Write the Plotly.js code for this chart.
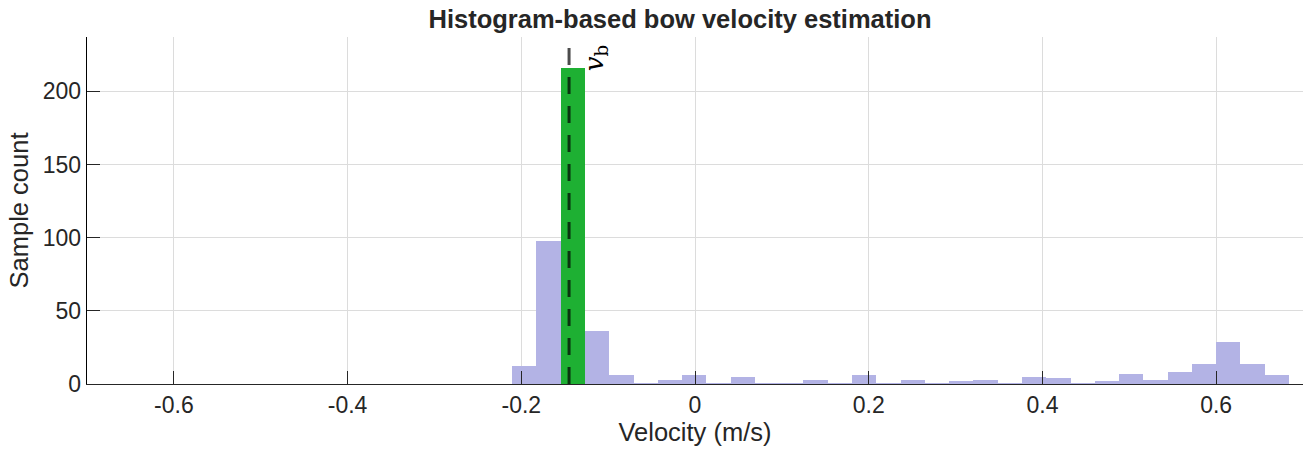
<!DOCTYPE html>
<html>
<head>
<meta charset="utf-8">
<script src="https://cdn.plot.ly/plotly-3.0.1.min.js"></script>
<style>
html,body{margin:0;padding:0;background:#fff;}
#chart{width:1309px;height:450px;}
</style>
</head>
<body>
<div id="chart"></div>
<script>
// Histogram data (bins of equal width)
const binStart = -0.2105;
const binWidth = 0.02795;
const counts = [12, 98, 216, 36, 6, 1, 3, 6, 1, 5, 1, 1, 3, 1, 6, 1, 3, 1, 2, 3, 1, 5, 4, 1, 2, 7, 3, 8, 14, 29, 14, 6];
const vb = -0.145; // estimated bow velocity
const xTicks = [-0.6, -0.4, -0.2, 0, 0.2, 0.4, 0.6];
const xTickLabels = ['-0.6', '-0.4', '-0.2', '0', '0.2', '0.4', '0.6'];
const yTicks = [0, 50, 100, 150, 200];

const peak = counts.indexOf(Math.max(...counts));
const colors = counts.map((c, i) => i === peak ? '#1eb033' : '#b3b3e5');

const font = 'Liberation Sans, Arial, Helvetica, sans-serif';
const axisColor = '#262626';
const xRange = [-0.7, 0.7];

const trace = {
  type: 'bar',
  x0: binStart + binWidth / 2,
  dx: binWidth,
  y: counts,
  width: binWidth,
  marker: {color: colors, line: {width: 0}},
  hoverinfo: 'x+y'
};
// empty helper trace so that the label axis (y2) exists
const labelTrace = {type: 'scatter', x: [], y: [], xaxis: 'x', yaxis: 'y2', hoverinfo: 'skip', showlegend: false};

// label axis placed just right of the v_b line (offset in pixels converted to paper units)
const plotWidthPx = 1309 - 87 - 6;
const labelPos = (vb - xRange[0]) / (xRange[1] - xRange[0]) + 15 / plotWidthPx;

const layout = {
  width: 1309,
  height: 450,
  margin: {l: 87, r: 6, t: 37, b: 66, pad: 0},
  paper_bgcolor: '#ffffff',
  plot_bgcolor: 'rgba(0,0,0,0)',
  showlegend: false,
  bargap: 0,
  font: {family: font, color: axisColor, size: 23},
  title: {
    text: '<b>Histogram-based bow velocity estimation</b>',
    font: {family: font, size: 25.5, color: '#262626'},
    xref: 'container', x: 680 / 1309, xanchor: 'center',
    yref: 'container', y: 1 - 19 / 450, yanchor: 'middle'
  },
  xaxis: {
    range: xRange,
    tickmode: 'array', tickvals: xTicks, ticktext: xTickLabels,
    ticks: 'inside', ticklen: 13, tickwidth: 1, tickcolor: axisColor,
    showline: true, linecolor: axisColor, linewidth: 1,
    showgrid: true, gridcolor: '#dcdcdc', gridwidth: 1,
    zeroline: false,
    tickfont: {family: font, size: 23, color: axisColor},
    title: {text: 'Velocity (m/s)', font: {family: font, size: 25.5, color: axisColor}, standoff: 6},
    automargin: false
  },
  yaxis: {
    range: [0, 237.2],
    tickmode: 'array', tickvals: yTicks,
    ticks: 'inside', ticklen: 13, tickwidth: 1, tickcolor: axisColor,
    showline: true, linecolor: '#000000', linewidth: 1.3,
    showgrid: true, gridcolor: '#dcdcdc', gridwidth: 1,
    zeroline: false,
    tickfont: {family: font, size: 23, color: axisColor},
    title: {text: 'Sample count', font: {family: font, size: 25.5, color: axisColor}, standoff: 6},
    automargin: false
  },
  yaxis2: {
    domain: [0.879, 1.0],
    anchor: 'free', position: labelPos, side: 'right',
    range: [0, 1], fixedrange: true,
    showticklabels: false, ticks: '', showline: false, showgrid: false, zeroline: false,
    title: {text: '<i>v</i><sub>b</sub>', font: {family: 'DejaVu Serif, Liberation Serif, serif', size: 26, color: '#000000'}, standoff: 0},
    automargin: false
  },
  shapes: [{
    type: 'line', xref: 'x', yref: 'paper',
    x0: vb, x1: vb, y0: 0, y1: 1,
    line: {color: 'rgba(0,0,0,0.7)', width: 3, dash: '17px,12px'},
    layer: 'above'
  }]
};

Plotly.newPlot('chart', [trace, labelTrace], layout, {displayModeBar: false, staticPlot: true});
</script>
</body>
</html>
